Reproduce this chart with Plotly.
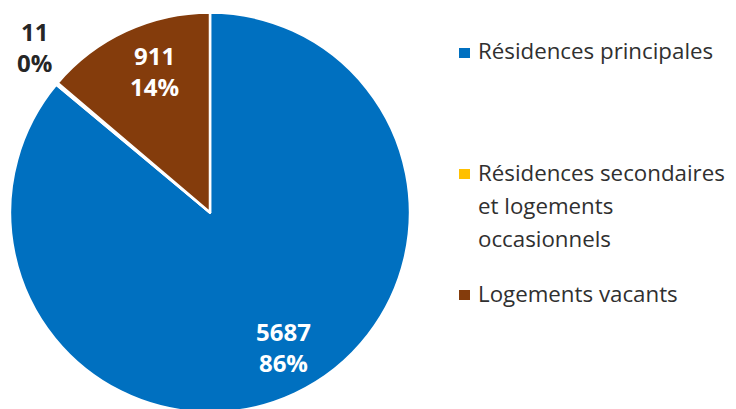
import math
import plotly.graph_objects as go

labels = ["Résidences principales", "Résidences secondaires et logements occasionnels", "Logements vacants"]
values = [5687, 11, 911]
colors = ["#0070C0", "#FFC000", "#843C0C"]
label_colors = ["white", "#262626", "white"]
label_radius = [0.765, 1.205, 0.76]   # fraction of pie radius where data labels sit
label_turn = [-3.5, 3.2, 3.4]          # degrees added to slice mid-angle for label placement
legend_lines = [["Résidences principales"], ["Résidences secondaires", "et logements", "occasionnels"], ["Logements vacants"]]
legend_y = [45, 166, 287]  # pixel y (figure coords) of each legend item

W, H = 736, 409
FONT = "Open Sans"
TXT = "#303030"
R = 200          # pie radius px
CX = 202         # pie centre x px (figure coords)

total = sum(values)

fig = go.Figure(go.Pie(
    labels=labels, values=values, textinfo="none",
    sort=False, direction="clockwise", rotation=0,
    marker=dict(colors=colors, line=dict(color="white", width=2.5)),
    domain=dict(x=[(CX - R)/W, (CX + R)/W], y=[0, 1]),
    showlegend=False, hoverinfo="label+value+percent",
))

ann = []
cum = 0
for v, c, f, t in zip(values, label_colors, label_radius, label_turn):
    mid = (cum + v/2) / total * 2*math.pi + math.radians(t)
    cum += v
    px = CX + R*f*math.sin(mid)
    py = R*f*math.cos(mid)
    ann.append(dict(text=f"<b>{v}<br>{round(100*v/total)}%</b>", xref="paper", yref="paper",
                    x=px/W, y=0.5 + py/H, xanchor="center", yanchor="middle",
                    showarrow=False, align="center",
                    font=dict(family=FONT, size=24, color=c)))

shapes = []
for lines, y0, c in zip(legend_lines, legend_y, colors):
    shapes.append(dict(type="rect", xref="paper", yref="paper",
                       x0=451/W, x1=462/W, y0=1-(y0+5)/H, y1=1-(y0-5)/H,
                       fillcolor=c, line=dict(width=0)))
    for i, ln in enumerate(lines):
        ann.append(dict(text=ln, xref="paper", yref="paper", x=468/W, y=1-(y0 - 2 + 33*i)/H,
                        xanchor="left", yanchor="middle", showarrow=False,
                        font=dict(family=FONT, size=22.3, color=TXT)))

fig.update_layout(width=W, height=H, margin=dict(l=0, r=0, t=0, b=0),
                  paper_bgcolor="white", plot_bgcolor="white",
                  annotations=ann, shapes=shapes,
                  font=dict(family=FONT, size=22, color=TXT))
fig.write_html("out.html")
